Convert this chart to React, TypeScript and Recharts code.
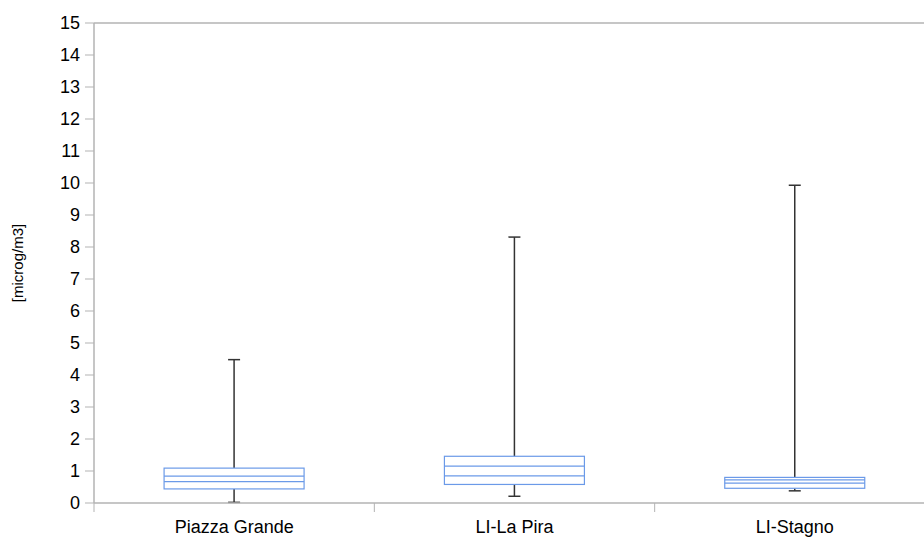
import { ComposedChart, Bar, XAxis, YAxis, CartesianGrid } from "recharts";

const categories = ["Piazza Grande", "LI-La Pira", "LI-Stagno"];
const minValues = [0.02, 0.21, 0.38];
const q1Values = [0.44, 0.58, 0.46];
const medianValues = [0.67, 0.85, 0.62];
const meanValues = [0.84, 1.15, 0.72];
const q3Values = [1.09, 1.46, 0.8];
const maxValues = [4.48, 8.31, 9.93];
const yTicks = [0, 1, 2, 3, 4, 5, 6, 7, 8, 9, 10, 11, 12, 13, 14, 15];

const data = categories.map((name, i) => ({
  name,
  min: minValues[i],
  q1: q1Values[i],
  median: medianValues[i],
  mean: meanValues[i],
  q3: q3Values[i],
  max: maxValues[i],
}));

const boxColor = "#6b9ae8";
const whiskerColor = "#333333";
const axisColor = "#b3b3b3";
const font = "'Liberation Sans', Arial, sans-serif";

function BoxShape(props: any) {
  const { x, y, width, height, payload } = props;
  const span = payload.max - payload.min;
  const ppu = span > 0 ? height / span : 0;
  const yOf = (v: number) => y + (payload.max - v) * ppu;
  const cx = x + width / 2;
  const cap = 6;
  const top = yOf(payload.q3);
  const bottom = yOf(payload.q1);
  return (
    <g>
      <line x1={cx} x2={cx} y1={yOf(payload.max)} y2={top} stroke={whiskerColor} strokeWidth={1.5} />
      <line x1={cx} x2={cx} y1={bottom} y2={yOf(payload.min)} stroke={whiskerColor} strokeWidth={1.5} />
      <line x1={cx - cap} x2={cx + cap} y1={yOf(payload.max)} y2={yOf(payload.max)} stroke={whiskerColor} strokeWidth={1.5} />
      <line x1={cx - cap} x2={cx + cap} y1={yOf(payload.min)} y2={yOf(payload.min)} stroke={whiskerColor} strokeWidth={1.5} />
      <rect x={x} y={top} width={width} height={bottom - top} fill="#ffffff" stroke={boxColor} strokeWidth={1.2} />
      <line x1={x} x2={x + width} y1={yOf(payload.median)} y2={yOf(payload.median)} stroke={boxColor} strokeWidth={1.2} />
      <line x1={x} x2={x + width} y1={yOf(payload.mean)} y2={yOf(payload.mean)} stroke={boxColor} strokeWidth={1.2} />
    </g>
  );
}

function CategoryTick(props: any) {
  const { x, payload } = props;
  const half = payload.offset || 140;
  return (
    <g>
      <line x1={x - half} x2={x - half} y1={503} y2={512} stroke={axisColor} strokeWidth={1} />
      <text x={x} y={533} textAnchor="middle" fontSize={18} fontFamily={font} fill="#000">
        {payload.value}
      </text>
    </g>
  );
}

function ValueTick(props: any) {
  const { x, y, payload } = props;
  return (
    <text x={x} y={y + 6} textAnchor="end" fontSize={18} fontFamily={font} fill="#000">
      {payload.value}
    </text>
  );
}

export default function App() {
  return (
    <div style={{ position: "fixed", left: 0, top: 0, width: 924, height: 541, overflow: "hidden", background: "#fff" }}>
      <ComposedChart
        width={924}
        height={541}
        data={data}
        margin={{ top: 23, right: -11, bottom: 0, left: 0 }}
        barCategoryGap="25%"
      >
        <CartesianGrid
          vertical={false}
          horizontalPoints={[23]}
          stroke={axisColor}
          strokeWidth={1.5}
        />
        <XAxis
          dataKey="name"
          height={38}
          axisLine={{ stroke: axisColor, strokeWidth: 1.5 }}
          tickLine={false}
          tick={<CategoryTick />}
          interval={0}
        />
        <YAxis
          domain={[0, 15]}
          ticks={yTicks}
          width={94}
          tickSize={9}
          tickMargin={5}
          interval={0}
          axisLine={{ stroke: axisColor, strokeWidth: 1.5 }}
          tickLine={{ stroke: axisColor }}
          tick={<ValueTick />}
          label={{
            value: "[microg/m3]",
            angle: -90,
            position: "insideLeft",
            offset: 18,
            style: { fontSize: 15, fontFamily: font, fill: "#000", textAnchor: "middle" },
          }}
        />
        <Bar
          dataKey={(d: any) => [d.min, d.max]}
          shape={<BoxShape />}
          isAnimationActive={false}
        />
      </ComposedChart>
    </div>
  );
}
